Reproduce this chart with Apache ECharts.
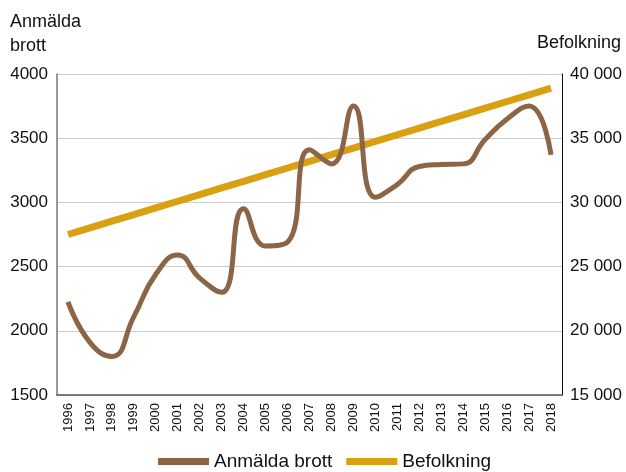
<!DOCTYPE html>
<html><head><meta charset="utf-8">
<script src="https://cdn.jsdelivr.net/npm/echarts@6/dist/echarts.min.js"></script>
<style>html,body{margin:0;padding:0;background:#fff}#c{width:626px;height:472px}</style>
</head><body><div id="c"></div>
<script>
var years = ['1996','1997','1998','1999','2000','2001','2002','2003','2004','2005','2006','2007','2008','2009','2010','2011','2012','2013','2014','2015','2016','2017','2018'];
var anmalda = [2225,1910,1800,2110,2440,2590,2410,2300,2950,2660,2690,3410,3300,3750,3040,3140,3280,3295,3300,3490,3650,3750,3370];
var befolkning = [27500,28020,28540,29050,29570,30090,30610,31130,31640,32160,32680,33200,33720,34230,34750,35270,35790,36310,36820,37340,37860,38380,38900];
var leftTicks = [1500,2000,2500,3000,3500,4000];
var rightTicks = [15000,20000,25000,30000,35000,40000];

var FONT = '"Liberation Sans", Arial, sans-serif';
var BROWN = '#8C6446', GOLD = '#D9A012';
var chart = echarts.init(document.getElementById('c'));
chart.setOption({
  animation: false,
  textStyle: {fontFamily: FONT},
  grid: {left: 57, right: 64, top: 74, bottom: 77},
  graphic: [
    {type: 'text', left: 10, top: 10, style: {text: 'Anmälda\nbrott', font: '18px ' + FONT, fill: '#111', lineHeight: 24}},
    {type: 'text', right: 5, top: 34, style: {text: 'Befolkning', font: '18px ' + FONT, fill: '#111'}}
  ],
  legend: {
    top: 447, left: 153, itemWidth: 51, itemHeight: 7, itemGap: 14,
    textStyle: {fontSize: 19, color: '#111', fontFamily: FONT},
    data: [{name: 'Anmälda brott', icon: 'rect'}, {name: 'Befolkning', icon: 'rect'}]
  },
  xAxis: {
    type: 'category', data: years, boundaryGap: true,
    axisLine: {lineStyle: {color: '#555', width: 1.5}},
    axisTick: {show: false},
    axisLabel: {rotate: 90, fontSize: 13, color: '#111', margin: 8, interval: 0}
  },
  yAxis: [
    {type: 'value', min: leftTicks[0], max: leftTicks[leftTicks.length-1], interval: 500,
     axisLine: {show: true, lineStyle: {color: '#777', width: 1.5}}, axisTick: {show: false},
     axisLabel: {fontSize: 17, color: '#111', margin: 9, formatter: function(v){ return String(v); }},
     splitLine: {lineStyle: {color: '#ccc', width: 1}}},
    {type: 'value', min: rightTicks[0], max: rightTicks[rightTicks.length-1], interval: 5000,
     axisLine: {show: true, lineStyle: {color: '#111', width: 1}}, axisTick: {show: false},
     axisLabel: {fontSize: 17, color: '#111', margin: 8,
       formatter: function(v){ return String(v).replace(/\B(?=(\d{3})+(?!\d))/g, ' '); }},
     splitLine: {show: false}}
  ],
  series: [
    {name: 'Befolkning', type: 'line', yAxisIndex: 1, data: befolkning, symbol: 'none',
     lineStyle: {color: GOLD, width: 7, cap: 'butt'}, itemStyle: {color: GOLD}},
    {name: 'Anmälda brott', type: 'line', yAxisIndex: 0, data: anmalda, symbol: 'none', smooth: 0.5,
     lineStyle: {color: BROWN, width: 5}, itemStyle: {color: BROWN}, z: 3}
  ]
});
</script></body></html>
